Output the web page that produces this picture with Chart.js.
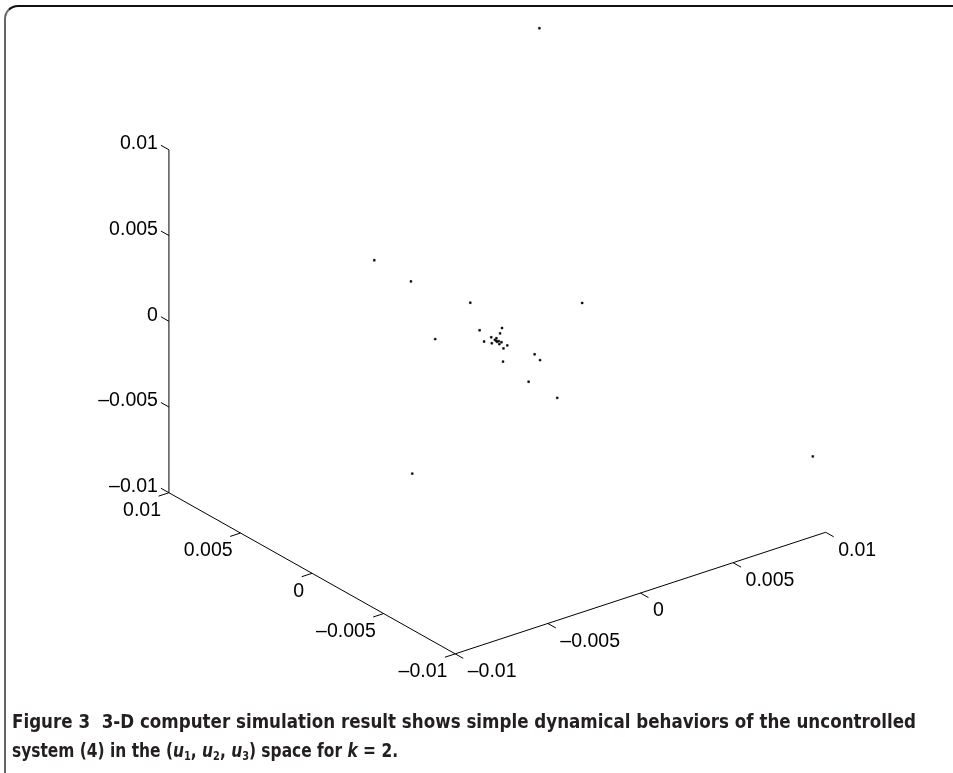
<!DOCTYPE html>
<html>
<head>
<meta charset="utf-8">
<script src="https://cdn.jsdelivr.net/npm/chart.js@4.4.1/dist/chart.umd.min.js"></script>
<style>
  html, body { margin: 0; padding: 0; background: #fff; overflow: hidden; }
  #wrap { position: relative; width: 953px; height: 773px; }
  #frame { position: absolute; left: 4px; top: 5px; width: 1000px; height: 900px;
           border-top: 2px solid #111; border-left: 2px solid #666; border-top-left-radius: 14px; }
  #grafico { position: absolute; left: 0; top: 0; }
  #cap { position: absolute; left: 12px; top: 708px; color: #231f20;
         font: bold 19px 'Liberation Sans Narrow', 'DejaVu Sans Condensed', 'Liberation Sans', sans-serif; }
  #cap .ln { white-space: nowrap; width: max-content; transform-origin: 0 0; height: 29px; line-height: 26px; }
  #cap sub { font-size: 12px; vertical-align: -3px; line-height: 0; }
</style>
</head>
<body>
<div id="wrap">
  <div id="frame"></div>
  <canvas id="grafico" width="953" height="773"></canvas>
  <div id="cap">
    <div class="ln" id="l1">Figure 3&nbsp;&nbsp;3-D computer simulation result shows simple dynamical behaviors of the uncontrolled</div>
    <div class="ln" id="l2">system (4) in the (<i>u</i><sub>1</sub>, <i>u</i><sub>2</sub>, <i>u</i><sub>3</sub>) space for <i>k</i> = 2.</div>
  </div>
</div>
<script>
  // Dati: punti della simulazione nello spazio (u1, u2, u3)
  var u1 = [0.01, 0.01, -0.01, 0.0007, 0.00067, 0.0014, 0.0052, 0.00005, 0.00095, 0.00056, -0.002,
            0.00002, -0.00048, -0.00032, -0.00001, 0.00014, -0.00005, 0.00004, -0.00012, 0.00007, -0.00003,
            -0.00024, 0.000075, -0.00105, 0.00047, 0.0003, -0.0014, -0.0014];
  var u2 = [0.01, -0.0091, -0.007, 0.0095, 0.0069, 0.0037, 0.0008, 0.0013, 0.0009, 0.00053, 0.00175,
            0.00045, 0.0003, -0.00003, 0.00016, 0.00024, -0.00006, -0.00005, -0.0003, -0.0002, 0.00003,
            -0.00074, -0.0006, -0.00176, -0.002, -0.0026, -0.004, -0.006];
  var u3 = [0.01, -0.006, -0.0009, 0, 0, 0, 0, 0, 0, 0, 0,
            0, 0, 0, 0, 0, 0, 0, 0, 0, 0,
            0, 0, 0, 0, 0, 0, 0];

  // Assi e tacche
  var assiMin = -0.01, assiMax = 0.01;
  var tacche = [-0.01, -0.005, 0, 0.005, 0.01];
  var etichette = ['\u20130.01', '\u20130.005', '0', '0.005', '0.01'];

  // Vista: origine e vettori (sul piano) di ogni asse per l'intero intervallo
  var vista = { ox: 455, oy: 657, e1: [374, -123], e2: [-289, -163], e3: [0, -347] };
  var lungTacca = 0.028 * (assiMax - assiMin);

  function proietta(a, b, c) {
    var s = assiMax - assiMin;
    var ta = (a - assiMin) / s, tb = (b - assiMin) / s, tc = (c - assiMin) / s;
    return {
      x: vista.ox + ta * vista.e1[0] + tb * vista.e2[0] + tc * vista.e3[0],
      y: vista.oy + ta * vista.e1[1] + tb * vista.e2[1] + tc * vista.e3[1]
    };
  }

  function linea(p, q) {
    return { data: [p, q], showLine: true, pointRadius: 0, borderColor: '#000', borderWidth: 1, fill: false };
  }

  var datasets = [];
  // asse u1, asse u2, asse u3
  datasets.push(linea(proietta(assiMin, assiMin, assiMin), proietta(assiMax, assiMin, assiMin)));
  datasets.push(linea(proietta(assiMin, assiMin, assiMin), proietta(assiMin, assiMax, assiMin)));
  datasets.push(linea(proietta(assiMin, assiMax, assiMin), proietta(assiMin, assiMax, assiMax)));

  // posizioni delle tacche (inizio e fine in 3D)
  function taccheAsse(asse) {
    return tacche.map(function (t) {
      if (asse === 1) return [[t, assiMin, assiMin], [t, assiMin - lungTacca, assiMin]];
      if (asse === 2) return [[assiMin, t, assiMin], [assiMin - lungTacca, t, assiMin]];
      return [[assiMin, assiMax, t], [assiMin, assiMax + lungTacca, t]];
    });
  }
  [1, 2, 3].forEach(function (asse) {
    taccheAsse(asse).forEach(function (tk) {
      datasets.push(linea(proietta.apply(null, tk[0]), proietta.apply(null, tk[1])));
    });
  });

  // punti
  var punti = u1.map(function (v, i) { return proietta(u1[i], u2[i], u3[i]); });
  datasets.push({ data: punti, showLine: false, pointRadius: 1.3, pointStyle: 'rect',
                  backgroundColor: '#000', borderColor: '#000', borderWidth: 0.5 });

  // Plugin per le etichette delle tacche
  var etichettePlugin = {
    id: 'etichette',
    afterDatasetsDraw: function (chart) {
      var c = chart.ctx, sx = chart.scales.x, sy = chart.scales.y;
      c.save();
      c.fillStyle = '#000';
      c.font = '19.5px "Liberation Sans", Arial, Helvetica, sans-serif';
      c.textBaseline = 'middle';
      var stili = {
        1: { align: 'left', dx: 4.5, dy: 13.5 },
        2: { align: 'right', dx: 2.5, dy: 14.5 },
        3: { align: 'right', dx: -3, dy: -1.5 }
      };
      [1, 2, 3].forEach(function (asse) {
        var st = stili[asse];
        c.textAlign = st.align;
        taccheAsse(asse).forEach(function (tk, i) {
          var p = proietta.apply(null, tk[1]);
          c.fillText(etichette[i], sx.getPixelForValue(p.x) + st.dx, sy.getPixelForValue(p.y) + st.dy);
        });
      });
      c.restore();
    }
  };

  var canvas = document.getElementById('grafico').getContext('2d');
  var grafico = new Chart(canvas, {
    type: 'scatter',
    data: { datasets: datasets },
    options: {
      responsive: false,
      animation: false,
      devicePixelRatio: 1,
      layout: { padding: 0 },
      plugins: { legend: { display: false }, tooltip: { enabled: false } },
      scales: {
        x: { type: 'linear', display: false, min: 0, max: 953 },
        y: { type: 'linear', display: false, min: 0, max: 773, reverse: true }
      }
    },
    plugins: [etichettePlugin]
  });

  // Adatta la larghezza della didascalia
  var l1 = document.getElementById('l1'), l2 = document.getElementById('l2');
  l1.style.transform = 'scaleX(' + (904 / l1.getBoundingClientRect().width) + ')';
  l2.style.transform = 'scaleX(' + (386 / l2.getBoundingClientRect().width) + ')';
</script>
</body>
</html>
